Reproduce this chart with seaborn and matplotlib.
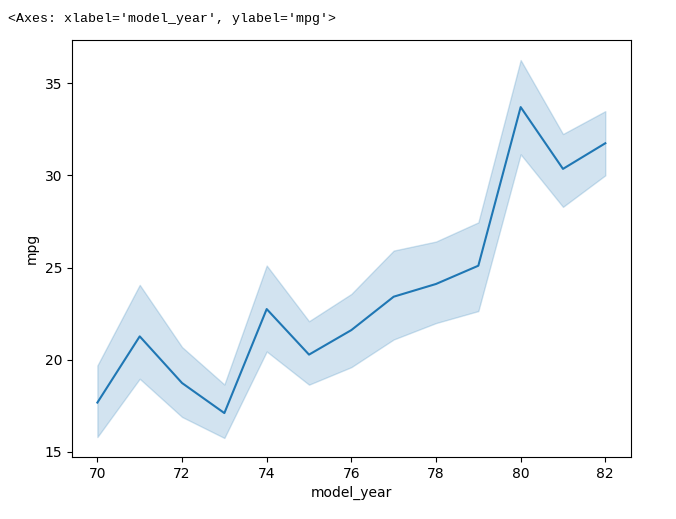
import matplotlib
matplotlib.use("Agg")
import matplotlib.pyplot as plt
import seaborn as sns
import pandas as pd

model_year = [70, 71, 72, 73, 74, 75, 76, 77, 78, 79, 80, 81, 82]
mpg_mean = [17.68, 21.27, 18.74, 17.11, 22.75, 20.28, 21.61, 23.42, 24.11, 25.10, 33.70, 30.35, 31.74]
mpg_low = [15.81, 18.97, 16.90, 15.76, 20.45, 18.65, 19.60, 21.10, 21.99, 22.64, 31.14, 28.29, 30.00]
mpg_high = [19.69, 24.06, 20.69, 18.66, 25.11, 22.09, 23.57, 25.92, 26.41, 27.45, 36.25, 32.24, 33.48]

df = pd.DataFrame({"model_year": model_year, "mpg": mpg_mean,
                   "low": mpg_low, "high": mpg_high})

fig = plt.figure(figsize=(6.76, 5.19), dpi=100)
ax = fig.add_axes([0.1065, 0.1195, 0.8265, 0.8035])

sns.lineplot(data=df, x="model_year", y="mpg", ax=ax, color="C0")
ax.fill_between(df["model_year"], df["low"], df["high"], color="C0", alpha=0.2)

ax.set_xticks(range(70, 83, 2))
ax.set_yticks([15, 20, 25, 30, 35])
ax.set_ylim(14.73, 37.34)
ax.set_xlim(69.4, 82.6)

fig.text(8 / 676, 1 - 19 / 519, "<Axes: xlabel='model_year', ylabel='mpg'>",
         family="Liberation Mono", fontsize=9.5, va="center", ha="left")

fig.savefig("out.png", dpi=100)
